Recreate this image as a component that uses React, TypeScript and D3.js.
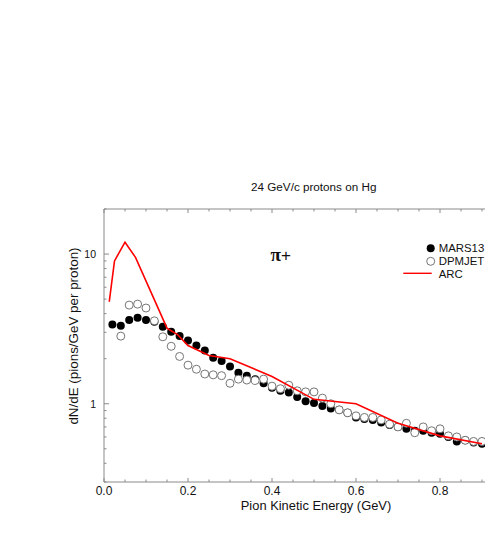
import React from "react";
import * as d3 from "d3";

const energies = [0.02,0.04,0.06,0.08,0.10,0.12,0.14,0.16,0.18,0.20,0.22,0.24,0.26,0.28,0.30,0.32,0.34,0.36,0.38,0.40,0.42,0.44,0.46,0.48,0.50,0.52,0.54,0.56,0.58,0.60,0.62,0.64,0.66,0.68,0.70,0.72,0.74,0.76,0.78,0.80,0.82,0.84,0.86,0.88,0.90];
const mars13 = [3.39,3.32,3.62,3.76,3.62,3.53,3.27,3.03,2.83,2.65,2.45,2.27,2.03,1.93,1.77,1.61,1.54,1.46,1.37,1.28,1.22,1.19,1.11,1.04,1.01,0.965,0.93,0.91,0.87,0.81,0.79,0.78,0.75,0.72,0.70,0.68,0.66,0.66,0.64,0.63,0.60,0.56,0.57,0.55,0.54];
const dpmEnergies = energies.slice(1);
const dpmjet = [2.83,4.56,4.63,4.36,3.58,2.80,2.42,2.07,1.81,1.70,1.58,1.56,1.54,1.37,1.46,1.44,1.43,1.46,1.31,1.26,1.33,1.22,1.20,1.20,1.09,1.00,0.91,0.87,0.83,0.81,0.81,0.78,0.73,0.70,0.74,0.64,0.70,0.66,0.68,0.61,0.60,0.57,0.56,0.56];
const arcEnergies = [0.0125,0.025,0.05,0.075,0.15,0.175,0.2,0.25,0.3,0.4,0.5,0.6,0.7,0.8,0.9];
const arc = [4.8,9.0,12.0,9.5,3.2,2.9,2.45,2.1,2.0,1.52,1.07,1.0,0.74,0.61,0.54];
const xTickLabels = [0, 0.2, 0.4, 0.6, 0.8];
const yTickLabels = [1, 10];
const yMinor = [0.3,0.4,0.5,0.6,0.7,0.8,0.9,2,3,4,5,6,7,8,9,20];

const W = 485, H = 554;
const left = 104, top = 209, bottom = 482;
const x = d3.scaleLinear().domain([0, 0.95]).range([left, left + 420 * 0.95]);
const y = d3.scaleLog().domain([0.3, 20]).range([bottom, top]);

const axisColor = "#8a8a8a";
const font = "'Liberation Sans', Arial, Helvetica, sans-serif";

export default function App() {
  const xTicks = d3.range(0, 0.951, 0.05);
  const line = d3.line<number>().x((_, i) => x(arcEnergies[i])).y((d) => y(d));
  const right = x(0.95);
  return (
    <svg width={W} height={H} style={{ position: "absolute", left: 0, top: 0, background: "#fff" }}>
      <rect x={0} y={0} width={W} height={H} fill="#fff" />
      <text x={313.7} y={191} fontFamily={font} fontSize={11.7} textAnchor="middle" fill="#111">24 GeV/c protons on Hg</text>
      {/* frame */}
      <line x1={left} x2={left} y1={top} y2={bottom} stroke={axisColor} strokeWidth={1} />
      <line x1={left} x2={right} y1={bottom} y2={bottom} stroke={axisColor} strokeWidth={1} />
      <line x1={left} x2={right} y1={top} y2={top} stroke={axisColor} strokeWidth={1} />
      {xTicks.map((t, i) => {
        const major = Math.abs((t / 0.2) - Math.round(t / 0.2)) < 1e-6;
        const len = major ? 4 : 2.5;
        return (
          <g key={"xt" + i}>
            <line x1={x(t)} x2={x(t)} y1={bottom} y2={bottom - len} stroke={axisColor} />
            <line x1={x(t)} x2={x(t)} y1={top} y2={top + len} stroke={axisColor} />
          </g>
        );
      })}
      {xTickLabels.map((t) => (
        <text key={"xl" + t} x={x(t)} y={495} fontFamily={font} fontSize={12} textAnchor="middle" fill="#111">{t.toFixed(1)}</text>
      ))}
      {yTickLabels.map((t) => (
        <g key={"yt" + t}>
          <line x1={left} x2={left + 5} y1={y(t)} y2={y(t)} stroke={axisColor} />
          <text x={96} y={y(t) + 3.8} fontFamily={font} fontSize={10.5} textAnchor="end" fill="#111">{t}</text>
        </g>
      ))}
      {yMinor.map((t) => (
        <line key={"ym" + t} x1={left} x2={left + 2.5} y1={y(t)} y2={y(t)} stroke={axisColor} />
      ))}
      <text transform={`translate(78,336) rotate(-90)`} fontFamily={font} fontSize={13.4} textAnchor="middle" fill="#111">dN/dE (pions/GeV per proton)</text>
      <text x={316} y={510} fontFamily={font} fontSize={12.9} textAnchor="middle" fill="#111">Pion Kinetic Energy (GeV)</text>
      <text x={270.5} y={260.5} fontFamily="'Liberation Serif', 'DejaVu Serif', serif" fontSize={19} fontWeight="bold" fill="#111">π<tspan fontWeight="normal" fontFamily={font} fontSize={17}>+</tspan></text>
      {/* data */}
      {mars13.map((v, i) => (
        <circle key={"m" + i} cx={x(energies[i])} cy={y(v)} r={4} fill="#000" />
      ))}
      {dpmjet.map((v, i) => (
        <circle key={"d" + i} cx={x(dpmEnergies[i])} cy={y(v)} r={4} fill="#fff" stroke="#666" strokeWidth={0.9} />
      ))}
      <path d={line(arc) || ""} fill="none" stroke="#f00" strokeWidth={1.6} />
      {/* legend */}
      <circle cx={430.7} cy={248.3} r={4} fill="#000" />
      <text x={438.7} y={252} fontFamily={font} fontSize={11.4} fill="#111">MARS13</text>
      <circle cx={430.7} cy={261.3} r={4} fill="#fff" stroke="#666" strokeWidth={0.9} />
      <text x={438.7} y={265} fontFamily={font} fontSize={11.4} fill="#111">DPMJET</text>
      <line x1={403.3} x2={431.7} y1={273.3} y2={273.3} stroke="#f00" strokeWidth={1.4} />
      <text x={438.7} y={277.5} fontFamily={font} fontSize={11.4} fill="#111">ARC</text>
    </svg>
  );
}
